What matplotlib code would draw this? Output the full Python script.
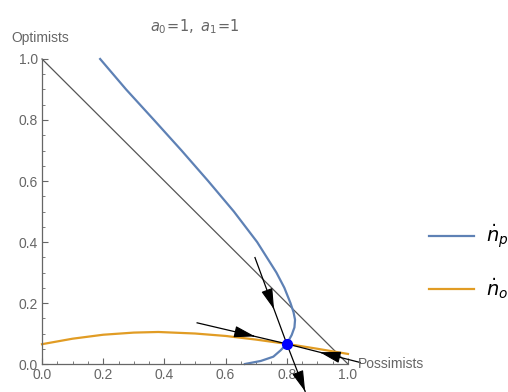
import numpy as np
import matplotlib.pyplot as plt
from matplotlib.lines import Line2D
from matplotlib.ticker import MultipleLocator

# Nullcline van n_p (blauw)
np_x = [0.19, 0.275, 0.366, 0.456, 0.543, 0.627, 0.703, 0.766, 0.792, 0.812, 0.822,
        0.827, 0.825, 0.816, 0.80, 0.78, 0.756, 0.715, 0.663]
np_y = [1.0, 0.9, 0.8, 0.7, 0.6, 0.5, 0.4, 0.3, 0.25, 0.20, 0.17,
        0.145, 0.12, 0.095, 0.066, 0.045, 0.024, 0.01, 0.0]

# Nullcline van n_o (oranje)
no_x = [0.0, 0.1, 0.2, 0.3, 0.38, 0.5, 0.6, 0.7, 0.8, 0.9, 1.0]
no_y = [0.065, 0.083, 0.096, 0.103, 0.105, 0.10, 0.092, 0.08, 0.066, 0.05, 0.033]

# Grens x + y = 1
border_x = [0.0, 1.0]
border_y = [1.0, 0.0]

# Evenwichtspunt en eigenvector-lijnen
fixed_pt = (0.80, 0.066)
steep_ends = [(0.696, 0.349), (0.86, -0.09)]
shallow_ends = [(0.507, 0.135), (1.04, 0.005)]

blue = "#5E81B5"
orange = "#E19C24"
txtgray = "#666666"

plt.rcParams["font.family"] = ["Liberation Sans", "DejaVu Sans"]
plt.rcParams["mathtext.fontset"] = "dejavusans"

fig = plt.figure(figsize=(5.08, 3.92), dpi=100)
ax = fig.add_axes([0.0827, 0.0714, 0.6023, 0.7781])

ax.plot(border_x, border_y, color="#555555", lw=0.9, clip_on=False)
ax.plot(np_x, np_y, color=blue, lw=1.6, clip_on=False, solid_joinstyle="round")
ax.plot(no_x, no_y, color=orange, lw=1.6, clip_on=False)

# Eigenvector lijnen door het evenwichtspunt
for ends in [steep_ends, shallow_ends]:
    xs = [ends[0][0], fixed_pt[0], ends[1][0]]
    ys = [ends[0][1], fixed_pt[1], ends[1][1]]
    ax.plot(xs, ys, color="black", lw=0.9, clip_on=False, zorder=4)


def arrow_on(start, end, frac):
    # pijlpunt op een fractie van start -> end, wijzend richting end
    sx, sy = start
    ex, ey = end
    tx = sx + (ex - sx) * frac
    ty = sy + (ey - sy) * frac
    bx = tx - (ex - sx) * 0.02
    by = ty - (ey - sy) * 0.02
    ax.annotate("", xy=(tx, ty), xytext=(bx, by),
                arrowprops=dict(arrowstyle="-|>,head_length=0.65,head_width=0.18",
                                color="black", mutation_scale=20,
                                shrinkA=0, shrinkB=0, lw=0.8),
                annotation_clip=False, zorder=5)


arrow_on(steep_ends[0], fixed_pt, 0.6)
arrow_on(fixed_pt, steep_ends[1], 1.0)
arrow_on(shallow_ends[0], fixed_pt, 0.645)
arrow_on(shallow_ends[1], fixed_pt, 0.55)

ax.plot(*fixed_pt, "o", color="#0000FF", ms=7, zorder=6, clip_on=False)

ax.set_xlim(0, 1)
ax.set_ylim(0, 1)
for s in ["top", "right"]:
    ax.spines[s].set_visible(False)
for s in ["left", "bottom"]:
    ax.spines[s].set_color("#666666")
    ax.spines[s].set_linewidth(0.9)

ax.xaxis.set_major_locator(MultipleLocator(0.2))
ax.yaxis.set_major_locator(MultipleLocator(0.2))
ax.xaxis.set_minor_locator(MultipleLocator(0.05))
ax.yaxis.set_minor_locator(MultipleLocator(0.05))
ax.tick_params(which="major", direction="in", length=4, width=0.8, color="#666666",
               labelcolor=txtgray, labelsize=10, pad=3)
ax.tick_params(which="minor", direction="in", length=2, width=0.6, color="#666666")
ax.xaxis.set_major_formatter(plt.FormatStrFormatter("%.1f"))
ax.yaxis.set_major_formatter(plt.FormatStrFormatter("%.1f"))

ax.set_title(r"$a_0\!=\!1,\ a_1\!=\!1$", color="#666666", fontsize=10.5, pad=20)
fig.text(40 / 508, 1 - 38 / 392, "Optimists", color=txtgray, fontsize=10,
         ha="center", va="center")
fig.text(358 / 508, 1 - 364 / 392, "Possimists", color=txtgray, fontsize=10,
         ha="left", va="center")

handles = [Line2D([], [], color=blue, lw=1.6), Line2D([], [], color=orange, lw=1.6)]
fig.legend(handles, [r"$\dot{n}_p$", r"$\dot{n}_o$"], loc="center left",
           bbox_to_anchor=(0.845, 0.332), frameon=False, fontsize=14,
           handlelength=2.3, labelspacing=1.3, borderpad=0, borderaxespad=0,
           handletextpad=0.6)

plt.savefig("out.png", dpi=100)
